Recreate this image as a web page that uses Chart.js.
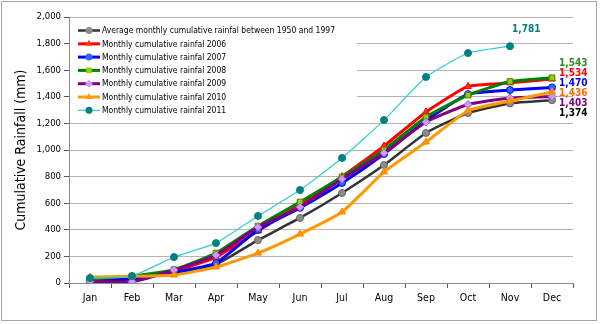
<!DOCTYPE html>
<html>
<head>
<meta charset="utf-8">
<script src="https://cdn.jsdelivr.net/npm/chart.js@4/dist/chart.umd.min.js"></script>
<style>
  html, body { margin: 0; padding: 0; background: #fff; }
  #wrap { width: 600px; height: 324px; position: relative; }
</style>
</head>
<body>
<div id="wrap"><canvas id="rainChart"></canvas></div>
<script>
// data
const months = ['Jan', 'Feb', 'Mar', 'Apr', 'May', 'Jun', 'Jul', 'Aug', 'Sep', 'Oct', 'Nov', 'Dec'];
const seriesNames = [
    'Average monthly cumulative rainfal between 1950 and 1997',
    'Monthly cumulative rainfal 2006',
    'Monthly cumulative rainfal 2007',
    'Monthly cumulative rainfal 2008',
    'Monthly cumulative rainfal 2009',
    'Monthly cumulative rainfal 2010',
    'Monthly cumulative rainfal 2011'
];
const avgRain  = [15, 30, 75, 140, 323, 489, 677, 887, 1128, 1278, 1350, 1374];
const rain2006 = [6, 40, 90, 195, 391, 590, 800, 1030, 1286, 1478, 1505, 1534];
const rain2007 = [20, 32, 80, 150, 400, 565, 752, 970, 1222, 1420, 1451, 1470];
const rain2008 = [30, 52, 100, 225, 428, 609, 797, 1000, 1248, 1413, 1515, 1543];
const rain2009 = [12, 10, 98, 210, 420, 571, 782, 977, 1210, 1342, 1391, 1403];
const rain2010 = [45, 50, 60, 120, 225, 368, 534, 835, 1060, 1295, 1368, 1436];
const rain2011 = [37, 52, 195, 300, 504, 699, 940, 1225, 1549, 1729, 1781, null];
const yTicks = [0, 200, 400, 600, 800, 1000, 1200, 1400, 1600, 1800, 2000];

// styles per series
const lineColors  = ['#333333', '#ff0000', '#0000ff', '#008000', '#800080', '#ff9900', '#33cccc'];
const pointFills  = ['#8c8c8c', '#ff3300', '#3366ff', '#99cc00', '#cc99ff', '#ff9900', '#008080'];
const pointEdges  = ['#666666', '#ff0000', '#0000ff', '#4d7f00', '#9966cc', '#ff8000', '#008080'];
const pointShapes = ['circle', 'triangle', 'circle', 'rect', 'rectRot', 'triangle', 'circle'];
const pointSizes  = [3.5, 4, 3.5, 4, 4, 4, 3.5];
const lineWidths  = [2.5, 3, 3, 3, 3, 3, 1.2];
const labelColors = ['#000000', '#ff0000', '#0000ff', '#2e8b2e', '#800080', '#ff6600', '#008080'];

const allSeries = [avgRain, rain2006, rain2007, rain2008, rain2009, rain2010, rain2011];

const datasets = allSeries.map((vals, i) => ({
    label: seriesNames[i],
    data: vals,
    borderColor: lineColors[i],
    borderWidth: lineWidths[i],
    backgroundColor: pointFills[i],
    pointBackgroundColor: pointFills[i],
    pointBorderColor: pointEdges[i],
    pointBorderWidth: 1,
    pointStyle: pointShapes[i],
    pointRadius: pointSizes[i],
    tension: 0.15,
    order: allSeries.length - i,
    spanGaps: false
}));

const FONT = "'DejaVu Sans Condensed', 'DejaVu Sans', sans-serif";

// white box behind the legend, drawn over the gridlines
const legendBox = { x1: 70, y1: 20, x2: 357, y2: 117 };

const legendPlugin = {
    id: 'lineLegend',
    beforeDatasetsDraw(chart) {
        const c = chart.ctx;
        c.save();
        c.fillStyle = '#ffffff';
        c.fillRect(legendBox.x1, legendBox.y1, legendBox.x2 - legendBox.x1, legendBox.y2 - legendBox.y1);
        c.restore();
    },
    afterDatasetsDraw(chart) {
        const c = chart.ctx;
        c.save();
        chart.data.datasets.forEach((ds, i) => {
            const y = 30.5 + i * 13.3;
            c.strokeStyle = ds.borderColor;
            c.lineWidth = ds.borderWidth;
            c.beginPath();
            c.moveTo(78, y);
            c.lineTo(100, y);
            c.stroke();
            c.fillStyle = ds.pointBackgroundColor;
            c.strokeStyle = ds.pointBorderColor;
            c.lineWidth = 1;
            Chart.helpers.drawPoint(c, { pointStyle: ds.pointStyle, radius: ds.pointRadius, rotation: 0 }, 89, y);
            c.fillStyle = '#000000';
            c.font = '8.5px ' + FONT;
            c.textBaseline = 'middle';
            c.textAlign = 'left';
            c.fillText(ds.label, 102, y + 0.5);
        });
        c.restore();
    }
};

// value labels at the end of each line
const endLabelPlugin = {
    id: 'endLabels',
    afterDatasetsDraw(chart) {
        const c = chart.ctx;
        const yScale = chart.scales.y;
        c.save();
        c.font = 'bold 10px ' + FONT;
        c.textBaseline = 'middle';
        c.textAlign = 'left';

        // December values stacked one under the other
        const decIdx = months.length - 1;
        const decItems = [];
        chart.data.datasets.forEach((ds, i) => {
            const v = ds.data[decIdx];
            if (v != null) decItems.push({ i, v });
        });
        decItems.sort((a, b) => b.v - a.v);
        const top = yScale.getPixelForValue(decItems[0].v) - 14;
        decItems.forEach((item, k) => {
            const pt = chart.getDatasetMeta(item.i).data[decIdx];
            c.fillStyle = labelColors[item.i];
            c.fillText(item.v.toLocaleString('en-US'), pt.x + 7, top + k * 10);
        });

        // the 2011 series stops in November
        const last = rain2011.length - 2;
        const pt11 = chart.getDatasetMeta(6).data[last];
        c.fillStyle = labelColors[6];
        c.fillText(rain2011[last].toLocaleString('en-US'), pt11.x + 2, pt11.y - 17);
        c.restore();
    }
};

// grey frame round the whole chart
const framePlugin = {
    id: 'frame',
    afterDraw(chart) {
        const c = chart.ctx;
        c.save();
        c.strokeStyle = '#a6a6a6';
        c.lineWidth = 1;
        c.strokeRect(1.5, 1.5, 595, 319);
        c.restore();
    }
};

const ctx = document.getElementById('rainChart').getContext('2d');
new Chart(ctx, {
    type: 'line',
    data: { labels: months, datasets: datasets },
    options: {
        responsive: true,
        maintainAspectRatio: false,
        animation: false,
        events: [],
        layout: { padding: { left: 0, right: 27, top: 17, bottom: 10 } },
        plugins: {
            legend: { display: false },
            tooltip: { enabled: false }
        },
        scales: {
            x: {
                offset: true,
                grid: {
                    offset: true,
                    drawOnChartArea: false,
                    tickLength: 5,
                    color: '#555555'
                },
                border: { color: '#8c8c8c' },
                ticks: {
                    color: '#000000',
                    padding: 4,
                    font: { family: FONT, size: 10.5 },
                    maxRotation: 0
                },
                afterFit(scale) { scale.height = 31; }
            },
            y: {
                min: 0,
                max: 2000,
                afterBuildTicks(scale) { scale.ticks = yTicks.map(v => ({ value: v })); },
                grid: {
                    color: '#b4b4b4',
                    tickLength: 5,
                    tickColor: '#555555'
                },
                border: { color: '#8c8c8c' },
                ticks: {
                    color: '#000000',
                    padding: 3,
                    font: { family: FONT, size: 9.5 },
                    callback: v => v.toLocaleString('en-US')
                },
                title: {
                    display: true,
                    text: 'Cumulative Rainfall (mm)',
                    color: '#000000',
                    font: { family: FONT, size: 14 },
                    padding: { top: 13, bottom: 4 }
                },
                afterFit(scale) { scale.width = 69; }
            }
        }
    },
    plugins: [legendPlugin, endLabelPlugin, framePlugin]
});
</script>
</body>
</html>
